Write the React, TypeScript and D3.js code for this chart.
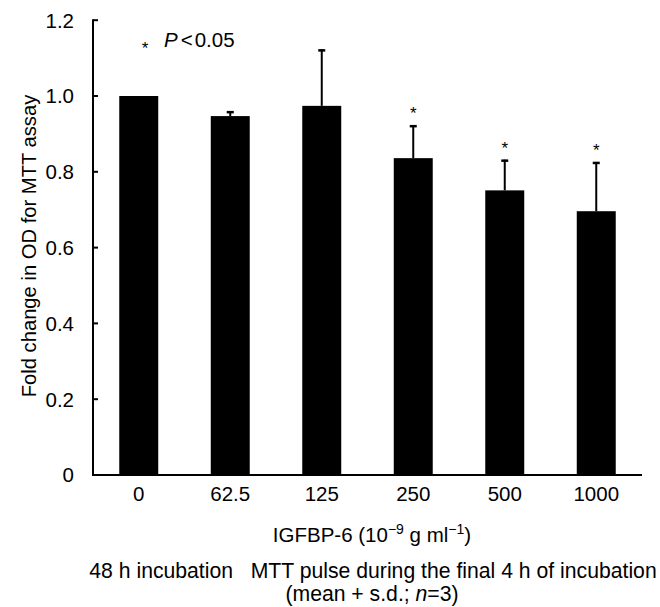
import React from "react";
import * as d3 from "d3";

const categories = ["0", "62.5", "125", "250", "500", "1000"];
const means = [1.0, 0.947, 0.974, 0.836, 0.751, 0.696];
const sds = [0.0, 0.013, 0.149, 0.087, 0.081, 0.13];
const significant = [false, false, false, true, true, true];
const yTicks = [0, 0.2, 0.4, 0.6, 0.8, 1.0, 1.2];
const yTickLabels = ["0", "0.2", "0.4", "0.6", "0.8", "1.0", "1.2"];

const W = 660;
const H = 607;
const left = 93;
const right = 642;
const top = 20.2;
const bottom = 475;
const font = "'Liberation Sans', Arial, Helvetica, sans-serif";
const fs = 20.5;
const fsb = 21.2;

export default function App() {
  const x = d3.scaleBand<string>().domain(categories).range([left, right]).paddingInner(0.574).paddingOuter(0.287);
  const y = d3.scaleLinear().domain([0, 1.2]).range([bottom, top]);
  const bw = x.bandwidth();
  return (
    <svg width={W} height={H} style={{ position: "absolute", left: 0, top: 0, background: "#fff" }} fontFamily={font}>
      {categories.map((c, i) => (
        <rect key={c} x={x(c)} y={y(means[i])} width={bw} height={y(0) - y(means[i])} fill="#000" />
      ))}
      {categories.map((c, i) => {
        if (sds[i] <= 0) return null;
        const cx = (x(c) as number) + bw / 2;
        return (
          <g key={"e" + c}>
            <line x1={cx} x2={cx} y1={y(means[i])} y2={y(means[i] + sds[i])} stroke="#000" strokeWidth={2} />
            <line x1={cx - 3.5} x2={cx + 3.5} y1={y(means[i] + sds[i]) + 1} y2={y(means[i] + sds[i]) + 1} stroke="#000" strokeWidth={2.5} />
          </g>
        );
      })}
      {categories.map((c, i) =>
        significant[i] ? (
          <text key={"s" + c} x={(x(c) as number) + bw / 2} y={y(means[i] + sds[i]) - 6} textAnchor="middle" fontSize={17} fill="#000">
            *
          </text>
        ) : null
      )}
      <line x1={left} x2={left} y1={top - 1} y2={bottom + 1} stroke="#000" strokeWidth={2} />
      <line x1={left} x2={right} y1={bottom} y2={bottom} stroke="#000" strokeWidth={2} />
      {yTicks.map((t, i) => (
        <g key={"t" + t}>
          <line x1={left} x2={left + 5} y1={y(t)} y2={y(t)} stroke="#000" strokeWidth={2} />
          <text x={left - 19} y={y(t)} dy="0.36em" textAnchor="end" fontSize={fs} fill="#000">
            {yTickLabels[i]}
          </text>
        </g>
      ))}
      {categories.map((c) => (
        <text key={"xl" + c} x={(x(c) as number) + bw / 2} y={494} dy="0.36em" textAnchor="middle" fontSize={fs} fill="#000">
          {c}
        </text>
      ))}
      <text transform={`translate(29,246) rotate(-90)`} textAnchor="middle" dy="0.36em" fontSize={20.2} fill="#000">
        Fold change in OD for MTT assay
      </text>
      <text x={372} y={542} textAnchor="middle" fontSize={fs} fill="#000">
        IGFBP-6 (10<tspan dy="-8" fontSize={14}>−9</tspan>
        <tspan dy="8"> g ml</tspan>
        <tspan dy="-8" fontSize={14}>−1</tspan>
        <tspan dy="8">)</tspan>
      </text>
      <text x={373} y={578} textAnchor="middle" fontSize={fsb} fill="#000">
        48 h incubation{"\u00a0\u00a0\u00a0"}MTT pulse during the final 4 h of incubation
      </text>
      <text x={372} y={601} textAnchor="middle" fontSize={fsb} fill="#000">
        (mean + s.d.; <tspan fontStyle="italic">n</tspan>=3)
      </text>
      <text x={145} y={54} textAnchor="middle" fontSize={17} fill="#000">*</text>
      <text x={164} y={47} fontSize={fs} fill="#000">
        <tspan fontStyle="italic">P</tspan>
        <tspan dx="3">&lt;</tspan>
        <tspan dx="2">0.05</tspan>
      </text>
    </svg>
  );
}
